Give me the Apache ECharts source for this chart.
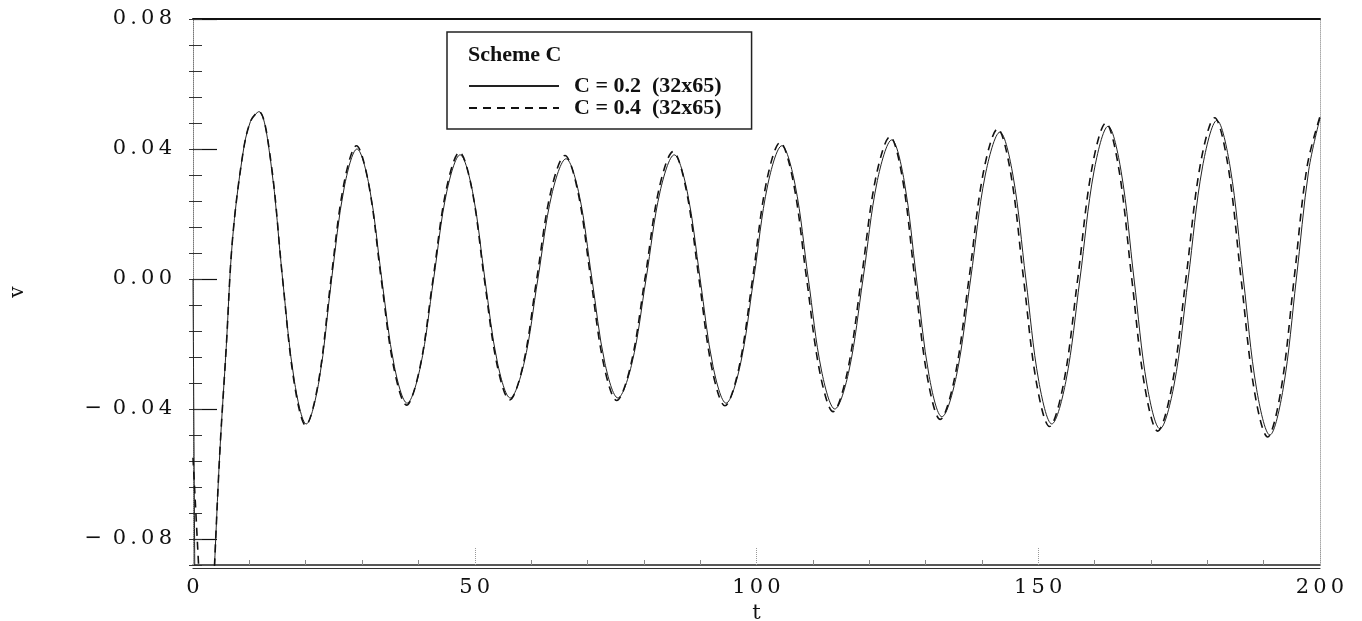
<!DOCTYPE html>
<html>
<head>
<meta charset="utf-8">
<script src="https://cdn.jsdelivr.net/npm/echarts@6/dist/echarts.min.js"></script>
<style>
  html, body { margin: 0; padding: 0; background: #fff; }
  #chart { width: 1362px; height: 621px; }
</style>
</head>
<body>
<div id="chart"></div>
<script>
// values (extrema, crossings and points half way between)
// null = the curve is off the bottom of the plot there
var solidT = [0, 0.35, 2, 3.3, 3.9, 4.8, 5.9, 7.0, 8.8, 10.2, 11.7,
  13.8, 15.9, 18.0, 20.1, 22.35, 24.6, 26.85, 29.1, 31.3, 33.5, 35.75, 38.0, 40.35, 42.7, 45.05, 47.4, 49.6, 51.8,
  54.05, 56.3, 58.75, 61.2, 63.7, 66.2, 68.5, 70.8, 73.1, 75.4, 77.9, 80.4, 82.9, 85.4, 87.7, 90.0, 92.3, 94.6,
  97.05, 99.5, 102.0, 104.5, 106.85, 109.2, 111.55, 113.9, 116.4, 118.9, 121.45, 124.0, 126.2, 128.4, 130.65, 132.9,
  135.45, 138.0, 140.6, 143.2, 145.5, 147.8, 150.1, 152.4, 154.9, 157.4, 159.9, 162.4, 164.7, 167.0, 169.3, 171.6,
  174.1, 176.6, 179.15, 181.7, 184.05, 186.4, 188.75, 191.1, 193.45, 195.8, 198.0, 200];
var solidV = [0, -0.1, null, -0.11, -0.085, -0.052, -0.021, 0.012, 0.038, 0.0485, 0.0515,
  0.036, 0, -0.0315, -0.0446, -0.0315, 0, 0.0283, 0.0400, 0.0283, 0, -0.0270, -0.0382, -0.0270, 0, 0.0270, 0.0382, 0.0270, 0,
  -0.0259, -0.0366, -0.0259, 0, 0.0262, 0.0370, 0.0262, 0, -0.0259, -0.0366, -0.0259, 0, 0.0270, 0.0382, 0.0270, 0, -0.0270, -0.0382,
  -0.0270, 0, 0.0290, 0.0410, 0.0290, 0, -0.0283, -0.0400, -0.0283, 0, 0.0303, 0.0428, 0.0303, 0, -0.0300, -0.0424,
  -0.0300, 0, 0.0320, 0.0452, 0.0320, 0, -0.0315, -0.0446, -0.0315, 0, 0.0332, 0.0470, 0.0332, 0, -0.0326, -0.0461,
  -0.0326, 0, 0.0345, 0.0488, 0.0345, 0, -0.0339, -0.0480, -0.0339, 0, 0.0335, 0.0495];

var dashT = [0, 1.2, 2, 3.3, 3.9, 4.8, 5.9, 7.0, 8.8, 10.2, 11.7,
  13.8, 15.9, 17.95, 20.0, 22.25, 24.5, 26.75, 29.0, 31.2, 33.4, 35.65, 37.9, 40.25, 42.6, 44.95, 47.3, 49.5, 51.7,
  53.95, 56.2, 58.6, 61.0, 63.5, 66.0, 68.3, 70.6, 72.9, 75.2, 77.7, 80.2, 82.7, 85.2, 87.5, 89.8, 92.1, 94.4,
  96.85, 99.3, 101.75, 104.2, 106.55, 108.9, 111.25, 113.6, 116.1, 118.6, 121.15, 123.7, 125.9, 128.1, 130.35, 132.6,
  135.15, 137.7, 140.25, 142.8, 145.1, 147.4, 149.7, 152.0, 154.5, 157.0, 159.5, 162.0, 164.3, 166.6, 168.9, 171.2,
  173.7, 176.2, 178.75, 181.3, 183.65, 186.0, 188.35, 190.7, 193.05, 195.4, 197.7, 200];
var dashV = [-0.055, -0.095, null, -0.11, -0.085, -0.052, -0.021, 0.012, 0.038, 0.0485, 0.0515,
  0.0364, 0, -0.0318, -0.0450, -0.0318, 0, 0.0290, 0.0410, 0.0290, 0, -0.0274, -0.0388, -0.0274, 0, 0.0276, 0.0390, 0.0276, 0,
  -0.0263, -0.0372, -0.0263, 0, 0.0269, 0.0380, 0.0269, 0, -0.0264, -0.0374, -0.0264, 0, 0.0277, 0.0392, 0.0277, 0, -0.0276, -0.0390,
  -0.0276, 0, 0.0297, 0.0420, 0.0297, 0, -0.0288, -0.0408, -0.0288, 0, 0.0310, 0.0438, 0.0310, 0, -0.0305, -0.0432,
  -0.0305, 0, 0.0327, 0.0462, 0.0327, 0, -0.0321, -0.0454, -0.0321, 0, 0.0339, 0.0480, 0.0339, 0, -0.0331, -0.0468,
  -0.0331, 0, 0.0351, 0.0496, 0.0351, 0, -0.0344, -0.0486, -0.0344, 0, 0.0345, 0.0500];

var seriesNames = ['C = 0.2  (32x65)', 'C = 0.4  (32x65)'];
var vTicks = [-0.08, -0.04, 0, 0.04, 0.08];
var vMin = -0.088, vMax = 0.08;

function pairs(ts, vs) {
  var out = [];
  for (var i = 0; i < ts.length; i++) out.push([ts[i], vs[i]]);
  return out;
}

// spread out the digits a bit, like the wide face of the original
function spread(s) {
  return s.split('').join('\u2009');
}

var myChart = echarts.init(document.getElementById('chart'));
var serif = 'DejaVu Serif';

var option = {
  animation: false,
  backgroundColor: '#fff',
  grid: { left: 193, right: 42, top: 19, bottom: 56, outerBoundsMode: 'none' },
  legend: {
    orient: 'vertical',
    left: 447,
    top: 32,
    padding: [43, 30, 10, 21],
    borderColor: '#222',
    borderWidth: 1.5,
    itemWidth: 90,
    itemHeight: 14,
    itemGap: 0,
    data: seriesNames,
    itemStyle: { color: 'transparent', borderWidth: 0 },
    textStyle: {
      fontFamily: 'Liberation Serif',
      fontWeight: 'bold',
      fontSize: 22,
      lineHeight: 20,
      color: '#111',
      padding: [0, 0, 0, 10]
    }
  },
  graphic: [{
    type: 'text',
    left: 468,
    top: 44,
    style: {
      text: 'Scheme C',
      font: 'bold 22px "Liberation Serif"',
      fill: '#111'
    }
  }],
  xAxis: [{
    type: 'value',
    min: 0,
    max: 200,
    interval: 50,
    name: 't',
    nameLocation: 'middle',
    nameGap: 36,
    nameTextStyle: { fontFamily: serif, fontSize: 21, color: '#111' },
    axisLine: { onZero: false, lineStyle: { color: '#222', width: 1.5 } },
    axisTick: { inside: true, length: 18, lineStyle: { color: '#999', type: 'dotted' } },
    minorTick: { show: true, splitNumber: 5, length: 5, lineStyle: { color: '#888' } },
    axisLabel: {
      margin: 12,
      fontFamily: serif,
      fontSize: 21,
      color: '#111',
      formatter: function (v) { return spread(String(v)); }
    },
    splitLine: { show: false }
  }, {
    type: 'value',
    position: 'top',
    min: 0,
    max: 200,
    axisLine: { onZero: false, lineStyle: { color: '#111', width: 2 } },
    axisTick: { show: false },
    axisLabel: { show: false },
    splitLine: { show: false }
  }, {
    type: 'value',
    position: 'bottom',
    offset: 3,
    min: 0,
    max: 200,
    axisLine: { onZero: false, lineStyle: { color: '#333', width: 1.2 } },
    axisTick: { show: false },
    axisLabel: { show: false },
    splitLine: { show: false }
  }],
  yAxis: [{
    type: 'value',
    min: vMin,
    max: vMax,
    name: 'v',
    nameLocation: 'middle',
    nameGap: 165,
    nameTextStyle: { fontFamily: serif, fontSize: 20, color: '#111' },
    axisLine: { show: true, onZero: false, lineStyle: { color: '#777', type: 'dotted', width: 1 } },
    axisTick: { inside: true, length: 24, customValues: vTicks, lineStyle: { color: '#111', width: 1.2 } },
    axisLabel: {
      margin: 21,
      fontFamily: serif,
      fontSize: 21,
      color: '#111',
      customValues: vTicks,
      formatter: function (v) {
        var s = Math.abs(v).toFixed(2);
        return (v < -1e-9 ? '\u2212\u2002' : '') + spread(s);
      }
    },
    splitLine: { show: false }
  }, {
    // "+" minor ticks: inside half
    type: 'value',
    position: 'left',
    min: vMin,
    max: vMax,
    interval: 0.008,
    axisLine: { show: false, onZero: false },
    axisTick: { inside: true, length: 9, lineStyle: { color: '#333' } },
    axisLabel: { show: false },
    splitLine: { show: false }
  }, {
    // "+" minor ticks: outside half
    type: 'value',
    position: 'left',
    min: vMin,
    max: vMax,
    interval: 0.008,
    axisLine: { show: false, onZero: false },
    axisTick: { inside: false, length: 4, lineStyle: { color: '#333' } },
    axisLabel: { show: false },
    splitLine: { show: false }
  }, {
    type: 'value',
    position: 'right',
    min: vMin,
    max: vMax,
    axisLine: { show: true, onZero: false, lineStyle: { color: '#aaa', type: 'dotted', width: 1 } },
    axisTick: { show: false },
    axisLabel: { show: false },
    splitLine: { show: false }
  }],
  series: [{
    name: seriesNames[0],
    type: 'line',
    xAxisIndex: 0,
    yAxisIndex: 0,
    smooth: 0.35,
    symbol: 'none',
    clip: true,
    lineStyle: { color: '#222', width: 1 },
    data: pairs(solidT, solidV)
  }, {
    name: seriesNames[1],
    type: 'line',
    xAxisIndex: 0,
    yAxisIndex: 0,
    smooth: 0.35,
    symbol: 'none',
    clip: true,
    lineStyle: { color: '#111', width: 1.6, type: [8, 6] },
    data: pairs(dashT, dashV)
  }]
};

myChart.setOption(option);
window.addEventListener('resize', function () {
  myChart.resize();
});
</script>
</body>
</html>
